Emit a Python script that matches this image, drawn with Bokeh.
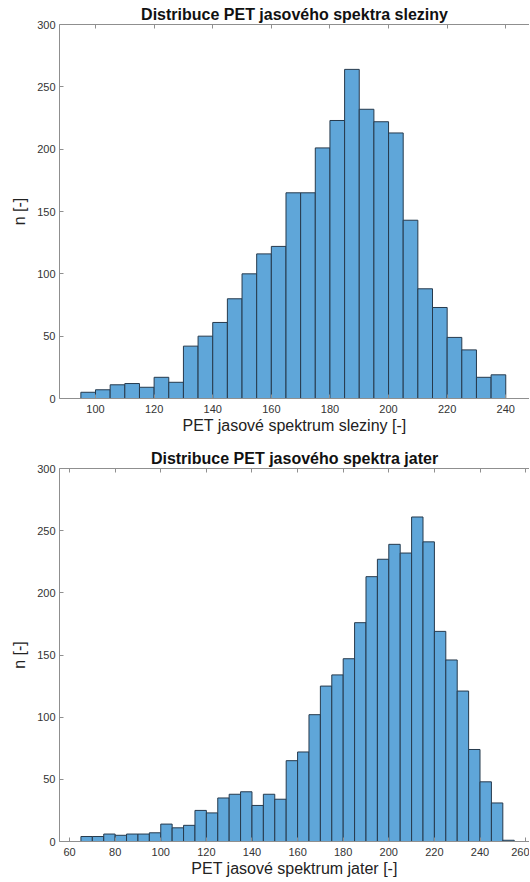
from bokeh.plotting import figure
from bokeh.models import LinearAxis, Range1d, FixedTicker, ColumnDataSource
from bokeh.layouts import column
from bokeh.embed import file_html
from bokeh.resources import INLINE

# ---- data ----
BIN_WIDTH = 5
spleen_bin_start = 95
spleen_counts = [5, 7, 11, 12, 9, 17, 13, 42, 50, 61, 80, 100, 116, 122, 165, 165,
                 201, 223, 264, 232, 222, 213, 143, 88, 73, 49, 39, 17, 19]
liver_bin_start = 65
liver_counts = [4, 4, 6, 5, 6, 6, 7, 14, 11, 13, 25, 23, 35, 38, 40, 29, 38, 34,
                65, 72, 102, 125, 134, 147, 176, 213, 227, 239, 232, 261, 241,
                169, 146, 121, 74, 48, 31, 1]
spleen_xticks = [100, 120, 140, 160, 180, 200, 220, 240]
liver_xticks = [60, 80, 100, 120, 140, 160, 180, 200, 220, 240, 260]
y_ticks = [0, 50, 100, 150, 200, 250, 300]

spleen_title = "Distribuce PET jasového spektra sleziny"
spleen_xlabel = "PET jasové spektrum sleziny [-]"
liver_title = "Distribuce PET jasového spektra jater"
liver_xlabel = "PET jasové spektrum jater [-]"
ylabel = "n [-]"

FONT = "Liberation Sans"
AXIS_COLOR = "#8f8f8f"
LABEL_COLOR = "#333333"
FILL = "#5fa6d9"
EDGE = "#263a4d"


def hist_fig(title, xlabel, start, counts, xticks, xr, frame_h, top_border, bottom_border):
    left = [start + i * BIN_WIDTH for i in range(len(counts))]
    right = [l + BIN_WIDTH for l in left]
    src = ColumnDataSource(dict(left=left, right=right, top=counts, bottom=[0] * len(counts)))
    p = figure(frame_width=470, frame_height=frame_h, x_range=Range1d(*xr),
               y_range=Range1d(0, 300), output_backend="svg", toolbar_location=None,
               min_border_left=59, min_border_right=0, min_border_top=top_border,
               min_border_bottom=bottom_border, title=title)
    p.title.text_font = FONT
    p.title.text_font_size = "16px"
    p.title.text_font_style = "bold"
    p.title.text_color = "#111111"
    p.title.align = "center"
    p.title.standoff = 4
    p.outline_line_color = None
    p.xgrid.visible = False
    p.ygrid.visible = False
    p.background_fill_color = "white"
    p.border_fill_color = "white"

    p.quad(left="left", right="right", top="top", bottom="bottom", source=src,
           fill_color=FILL, line_color=EDGE, line_width=1)

    for ax in (p.xaxis[0], p.yaxis[0]):
        ax.axis_line_color = AXIS_COLOR
        ax.major_tick_line_color = AXIS_COLOR
        ax.minor_tick_line_color = None
        ax.major_tick_in = 4
        ax.major_tick_out = 0
        ax.major_label_text_font = FONT
        ax.major_label_text_font_size = "11px"
        ax.major_label_text_color = LABEL_COLOR
        ax.axis_label_text_font = FONT
        ax.axis_label_text_font_size = "16px"
        ax.axis_label_text_font_style = "normal"
        ax.axis_label_text_color = "#222222"
    p.xaxis.ticker = FixedTicker(ticks=xticks)
    p.yaxis.ticker = FixedTicker(ticks=y_ticks)
    p.xaxis.axis_label = xlabel
    p.yaxis.axis_label = ylabel
    p.xaxis.major_label_standoff = 6
    p.xaxis.axis_label_standoff = 1
    p.yaxis.major_label_standoff = 4
    p.yaxis.axis_label_standoff = 6

    top_ax = LinearAxis(ticker=FixedTicker(ticks=xticks), major_label_text_font_size="1px",
                        major_label_text_color=None,
                        major_label_standoff=0, major_tick_in=4, major_tick_out=0,
                        minor_tick_line_color=None, axis_line_color=AXIS_COLOR,
                        major_tick_line_color=AXIS_COLOR)
    p.add_layout(top_ax, "above")
    return p


p1 = hist_fig(spleen_title, spleen_xlabel, spleen_bin_start, spleen_counts,
              spleen_xticks, (87.71, 248.1), 374, 24, 40)
p2 = hist_fig(liver_title, liver_xlabel, liver_bin_start, liver_counts,
              liver_xticks, (55.6, 261.7), 373, 30, 39)

layout = column(p1, p2, spacing=0)
open("out.html", "w").write(file_html(layout, INLINE))
